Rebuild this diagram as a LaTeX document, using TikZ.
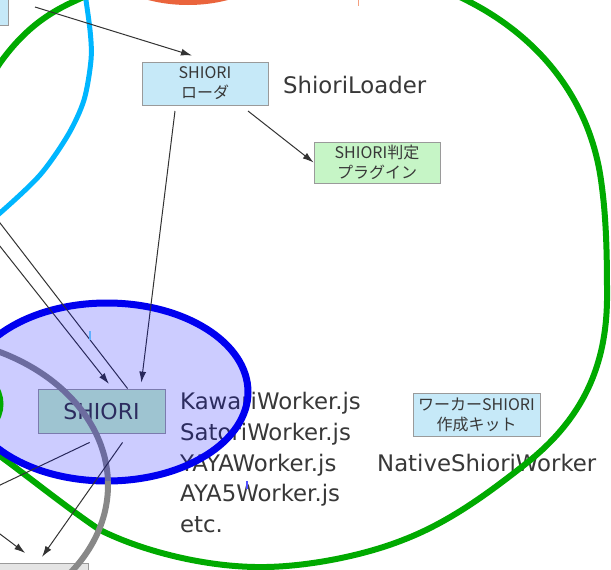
\documentclass[tikz,border=0pt]{standalone}
\usepackage{fontspec}
\usetikzlibrary{arrows.meta,calc}
\newfontfamily\latf{DejaVu Sans}
\newfontfamily\jpf{Noto Sans CJK JP}
\definecolor{lblue}{HTML}{C6E9F8}
\definecolor{lgreen}{HTML}{C6F5C6}
\definecolor{lgray}{HTML}{E4E4E4}
\definecolor{bordergray}{HTML}{9A9A9A}
\definecolor{txt}{HTML}{383838}
\definecolor{linec}{HTML}{333333}
\definecolor{grn}{HTML}{00AA00}
\definecolor{cyn}{HTML}{00B6FF}
\definecolor{org}{HTML}{EA643C}
\definecolor{gry}{HTML}{888888}
\definecolor{blu}{HTML}{0000EE}
\definecolor{tickblue}{HTML}{60B0FF}
\definecolor{tickviolet}{HTML}{5050FF}
\definecolor{ticksalmon}{HTML}{F4A080}
\begin{document}
\begin{tikzpicture}[x=1pt,y=-1pt,
  box/.style={draw=bordergray, line width=0.8pt, inner sep=0pt, align=center, text=txt,
              font=\jpf\fontsize{16}{20}\selectfont},
  arr/.style={draw=linec, line width=1pt, -{Latex[length=11pt,width=7pt]}},
  ln/.style={draw=linec, line width=1pt},
  big/.style={font=\latf\fontsize{22.8}{27}\selectfont, text=txt, inner sep=0pt, anchor=base west},
  ring/.style={line width=6pt}]
\useasboundingbox (0,0) rectangle (611,570);
\clip (0,0) rectangle (611,570);
\fill[white] (0,0) rectangle (611,570);

% partial group outlines at the top
\draw[org, line width=6pt] (188,-60) ellipse [x radius=100pt, y radius=62pt];
\draw[cyn, line width=5pt] plot[smooth] coordinates {(83,-20) (90,30) (91,60) (84,100) (68,135) (40,175) (0,213) (-25,232)};
\draw[ticksalmon, line width=1pt] (358,0) -- (358,6);

% nodes
\node[box, fill=lblue, minimum width=70pt, minimum height=45pt] (tl) at (-27,2.5) {};
\node[box, fill=lblue, minimum width=126pt, minimum height=43pt] (loader) at (205,83.5) {SHIORI\\ローダ};
\node[big] (loaderlbl) at (283,93) {ShioriLoader};
\node[box, fill=lgreen, minimum width=126pt, minimum height=41pt] (plugin) at (377,162.5) {SHIORI判定\\プラグイン};
\node[box, fill=lgreen, minimum width=127pt, minimum height=44pt, font=\latf\fontsize{22}{26}\selectfont] (shiori) at (101.5,411) {SHIORI};
\node[box, fill=lblue, minimum width=127pt, minimum height=43pt] (kit) at (476.5,414.5) {ワーカーSHIORI\\作成キット};
\node[box, fill=lgray, minimum width=100pt, minimum height=40pt] (render) at (38,583) {};
\node[big] (w1) at (180,409) {KawariWorker.js};
\node[big] (w2) at (180,440) {SatoriWorker.js};
\node[big] (w3) at (180,471) {YAYAWorker.js};
\node[big] (w4) at (180,501) {AYA5Worker.js};
\node[big] (w5) at (180,532) {etc.};
\node[big] (native) at (377,471) {NativeShioriWorker};

% big green group
\draw[grn, ring] (-45,260) .. controls (-45,170) and (-25,100) .. (0,63)
  .. controls (25,28) and (50,12) .. (77,0)
  .. controls (160,-40) and (380,-45) .. (466,0)
  .. controls (542,38) and (590,102) .. (601,180)
  .. controls (606,215) and (607,250) .. (607,290)
  .. controls (608,350) and (593,410) .. (528,462)
  .. controls (490,492) and (450,522) .. (403,540)
  .. controls (360,557) and (300,568) .. (255,567)
  .. controls (200,566) and (140,550) .. (100,530)
  .. controls (70,510) and (30,478) .. (0,456)
  .. controls (-25,436) and (-45,360) .. cycle;

% blue group outline
\draw[blu, line width=7pt] (107,392) ellipse [x radius=141pt, y radius=89pt];

% gray group outline
\draw[gry, ring] (-85,485) ellipse [x radius=193pt, y radius=148pt];

% connectors
\coordinate (s1) at (35,7);
\coordinate (e1) at (192,55.5);
\draw[arr] (s1) -- (e1);
\coordinate (l1) at (248,111);
\draw[arr] (l1) -- (plugin.west);
\coordinate (l2) at (175,111);
\draw[arr, shorten >=6pt] (l2) -- ($(shiori.north west)+(103,0)$);
\coordinate (cB) at (-20,197);
\draw[ln] ($(shiori.north west)+(90,0)$) -- (cB);
\coordinate (cA) at (-20,221);
\draw[arr, shorten >=6pt] (cA) -- ($(shiori.north west)+(75,0)$);
\coordinate (cC) at (-20,494.6);
\draw[ln, shorten <=21pt] ($(shiori.south west)+(71,0)$) -- (cC);
\draw[arr, shorten <=11pt, shorten >=7pt] ($(shiori.south west)+(91.3,0)$) -- (render.north);
\coordinate (cD) at (-20,519);
\draw[arr, shorten >=16pt] (cD) -- (render.north);

% translucent fill of the blue group
\fill[blue, opacity=0.2] (107,392) ellipse [x radius=141pt, y radius=89pt];

% small green group edge and ticks
\draw[grn, ring] (-100,404) ellipse [x radius=100.5pt, y radius=55pt];
\draw[tickblue, line width=1.5pt] (90,331) -- (90,340);
\draw[tickviolet, line width=1.2pt] (247,481) -- (247,489);
\end{tikzpicture}
\end{document}
